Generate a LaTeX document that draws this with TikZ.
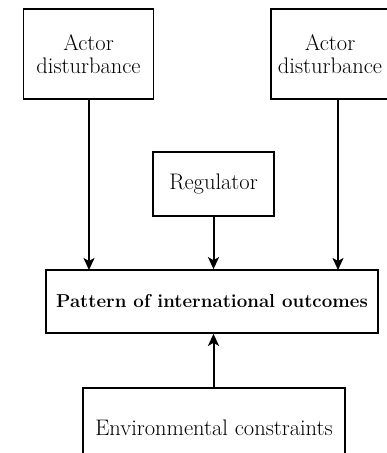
\documentclass[tikz,border=0pt]{standalone}
\usetikzlibrary{arrows.meta}
\begin{document}
\begin{tikzpicture}[x=1pt,y=-1pt,
  box/.style={draw,line width=1.7pt,align=center,inner sep=0pt,font=\fontsize{22.5}{23}\selectfont},
  conn/.style={line width=2pt,-{Stealth[length=12pt,width=11pt,inset=3pt]}}]
\useasboundingbox (0,0) rectangle (387,453);
\clip (0,0) rectangle (387,453);
\node[box,minimum width=130pt,minimum height=90pt] (a1) at (88.5,54) {Actor\\disturbance};
\node[box,minimum width=118pt,minimum height=90pt] (a2) at (330,54) {Actor\\disturbance};
\node[box,minimum width=121pt,minimum height=64pt] (reg) at (213.5,184) {Regulator};
\node[box,minimum width=332pt,minimum height=63pt,font=\fontsize{18.7}{21}\selectfont\bfseries] (pat) at (212,301.5) {Pattern of international outcomes};
\node[box,minimum width=262pt,minimum height=80pt] (env) at (214,428) {Environmental constraints};
\coordinate (t1) at (89,270);
\coordinate (t3) at (338,270);
\draw[conn] (a1.south -| t1) -- (t1);
\draw[conn] (reg.south) -- (pat.north -| reg.south);
\draw[conn] (a2.south -| t3) -- (t3);
\draw[conn] (env.north -| reg.south) -- (pat.south -| reg.south);
\end{tikzpicture}
\end{document}
